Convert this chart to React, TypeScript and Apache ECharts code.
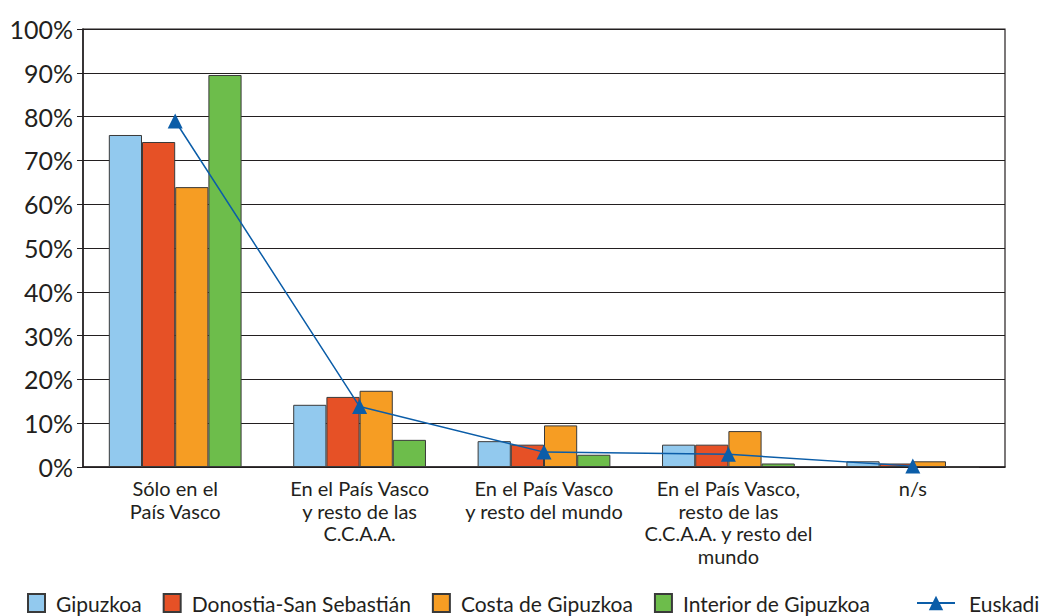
import React, { useEffect, useRef } from "react";
import * as echarts from "echarts";

const categories = [
  "Sólo en el\nPaís Vasco",
  "En el País Vasco\ny resto de las\nC.C.A.A.",
  "En el País Vasco\ny resto del mundo",
  "En el País Vasco,\nresto de las\nC.C.A.A. y resto del\nmundo",
  "n/s",
];
const gipuzkoa = [75.8, 14.2, 5.9, 5.1, 1.3];
const donostia = [74.2, 16.0, 5.1, 5.1, 0.8];
const costa = [63.9, 17.4, 9.5, 8.2, 1.3];
const interior = [89.5, 6.2, 2.8, 0.8, 0];
const euskadi = [79, 13.8, 3.4, 2.9, 0.2];
const yTicks = [0, 10, 20, 30, 40, 50, 60, 70, 80, 90, 100];

const FONT = "Lato";
const DARK = "#231f20";

export default function App() {
  const ref = useRef<HTMLDivElement>(null);
  useEffect(() => {
    if (!ref.current) return;
    const chart = echarts.init(ref.current, undefined, { renderer: "svg" });
    const barBase = (name: string, data: number[], color: string) => ({
      name,
      type: "bar",
      data,
      barGap: "0%",
      barCategoryGap: "28%",
      itemStyle: { color, borderColor: "#3a3a3a", borderWidth: 1 },
    });
    chart.setOption({
      animation: false,
      textStyle: { fontFamily: FONT, color: DARK },
      grid: {
        left: 83,
        right: 59,
        top: 29,
        bottom: 149,
        show: true,
        borderColor: DARK,
        borderWidth: 1.2,
      },
      legend: [
        {
          data: ["Gipuzkoa", "Donostia-San Sebastián", "Costa de Gipuzkoa", "Interior de Gipuzkoa"],
          left: 22,
          top: 586,
          itemWidth: 17,
          itemHeight: 18,
          itemGap: 21,
          icon: "rect",
          textStyle: { fontFamily: FONT, fontSize: 21, lineHeight: 24, color: DARK, padding: [0, 0, 0, 6] },
        },
        {
          data: ["Euskadi"],
          left: 911,
          top: 586,
          itemWidth: 38,
          itemHeight: 18,
          textStyle: { fontFamily: FONT, fontSize: 21, lineHeight: 24, color: DARK, padding: [0, 0, 0, 9] },
        },
      ],
      xAxis: {
        type: "category",
        data: categories,
        axisLine: { show: true, lineStyle: { color: DARK, width: 1.5 } },
        axisTick: { show: false },
        axisLabel: {
          interval: 0,
          fontFamily: FONT,
          fontSize: 20,
          lineHeight: 22.5,
          color: DARK,
          margin: 10,
        },
      },
      yAxis: {
        type: "value",
        min: 0,
        max: 100,
        interval: 10,
        axisLine: { show: true, lineStyle: { color: DARK, width: 1.5 } },
        axisTick: { show: true, length: 6, lineStyle: { color: DARK } },
        splitLine: { lineStyle: { color: DARK, width: 1.2 } },
        axisLabel: {
          formatter: (v: number) => (yTicks.includes(v) ? v + "%" : ""),
          fontFamily: FONT,
          fontSize: 25,
          color: DARK,
          margin: 10,
        },
      },
      series: [
        barBase("Gipuzkoa", gipuzkoa, "#92c9ee"),
        barBase("Donostia-San Sebastián", donostia, "#e65126"),
        barBase("Costa de Gipuzkoa", costa, "#f69d23"),
        barBase("Interior de Gipuzkoa", interior, "#6dbd4b"),
        {
          name: "Euskadi",
          type: "line",
          data: euskadi,
          symbol: "triangle",
          symbolSize: 15,
          lineStyle: { color: "#0b5da8", width: 1.5 },
          itemStyle: { color: "#0b5da8" },
          z: 5,
        },
      ],
    });
    return () => chart.dispose();
  }, []);
  return (
    <div
      ref={ref}
      style={{ position: "fixed", left: 0, top: 0, width: 1064, height: 616, background: "#fff" }}
    />
  );
}
